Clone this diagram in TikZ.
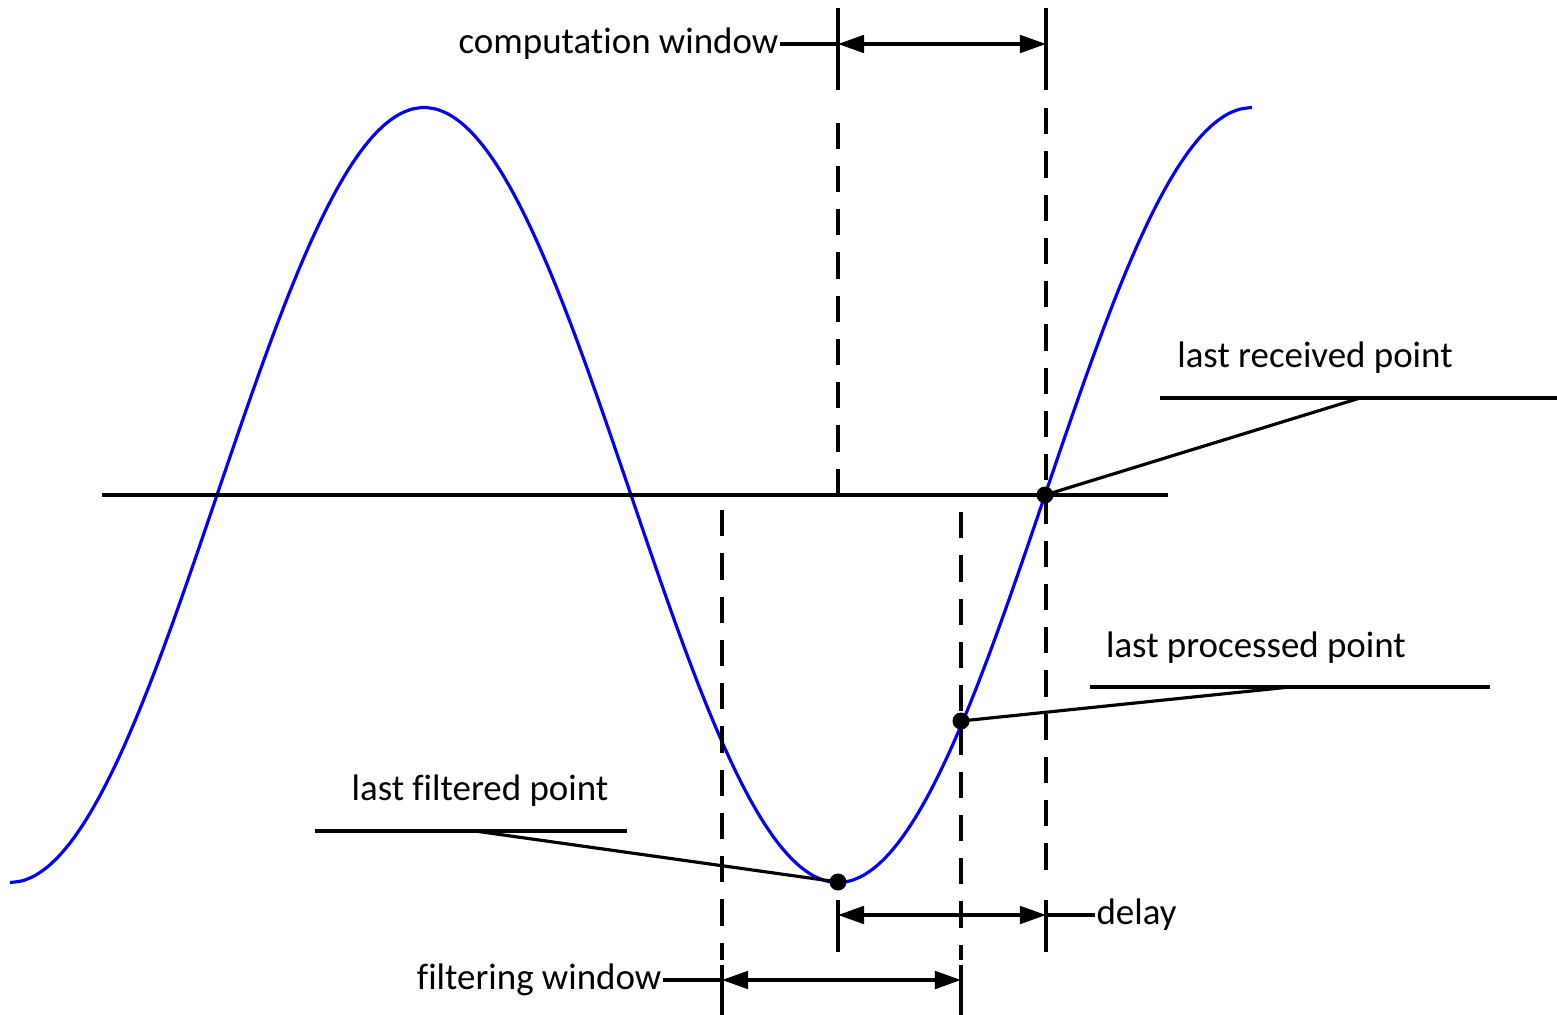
\documentclass[tikz,border=0pt]{standalone}
\usepackage{fontspec}
\setmainfont{Carlito}[Ligatures=NoCommon]
\usetikzlibrary{arrows.meta}

\begin{document}
\begin{tikzpicture}[x=0.01cm,y=-0.01cm,line width=0.9pt,
    font=\fontsize{10.5}{12}\selectfont,
    guide/.style={dash pattern=on 7.5pt off 4.8pt},
    dim/.style={{Triangle[length=7.4pt,width=5pt]}-{Triangle[length=7.4pt,width=5pt]}},
    dot/.style={circle,fill,inner sep=0pt,minimum size=0.17cm}]

    \useasboundingbox (0,0) rectangle (1557,1015);

    % signal and axis
    \draw[blue] plot[smooth,domain=10:1252,samples=100] (\x,{495+387.5*cos(0.434783*(\x-10))});
    \draw (102,495) -- (1168,495);

    % guide lines
    \draw[guide] (722,510) -- (722,960);
    \draw[guide] (838,495) -- (838,108);
    \draw[guide] (961,512) -- (961,960);
    \draw[guide] (1046,108) -- (1046,885);

    % extension lines
    \draw (838,8) -- (838,90);
    \draw (1046,8) -- (1046,90);
    \draw (838,900) -- (838,952);
    \draw (1046,900) -- (1046,952);
    \draw (722,965) -- (722,1015);
    \draw (961,965) -- (961,1015);

    % dimensions
    \coordinate (cwL) at (838,44);
    \coordinate (cwR) at (1046,44);
    \coordinate (dlL) at (838,915);
    \coordinate (dlR) at (1046,915);
    \coordinate (fwL) at (722,980);
    \coordinate (fwR) at (961,980);
    \draw[dim] (cwL) -- (cwR);
    \draw[dim] (dlL) -- (dlR);
    \draw[dim] (fwL) -- (fwR);

    \node[anchor=east,inner sep=0pt] (cwtext) at (780,44) {computation window};
    \node[anchor=west,inner sep=0pt] (dltext) at (1095,915) {delay};
    \node[anchor=east,inner sep=0pt] (fwtext) at (663,980) {filtering window};
    \draw (cwtext.east) -- (cwL);
    \draw (dltext.west) -- (dlR);
    \draw (fwtext.east) -- (fwL);

    % points
    \node[dot] (recvdot) at (1045,495) {};
    \node[dot] (procdot) at (961,721) {};
    \node[dot] (filtdot) at (838,882) {};

    \node (recvtext) at (1315,358) {last received point};
    \node (proctext) at (1256,648) {last processed point};
    \node (filttext) at (480,791) {last filtered point};

    \coordinate (recvknee) at (1360,398);
    \coordinate (procknee) at (1290,687);
    \coordinate (filtknee) at (475,831);
    \draw (1160,398) -- (1557,398);
    \draw (1090,687) -- (1490,687);
    \draw (315,831) -- (627,831);
    \draw (recvdot.center) -- (recvknee);
    \draw (procdot.center) -- (procknee);
    \draw (filtdot.center) -- (filtknee);

\end{tikzpicture}
\end{document}
